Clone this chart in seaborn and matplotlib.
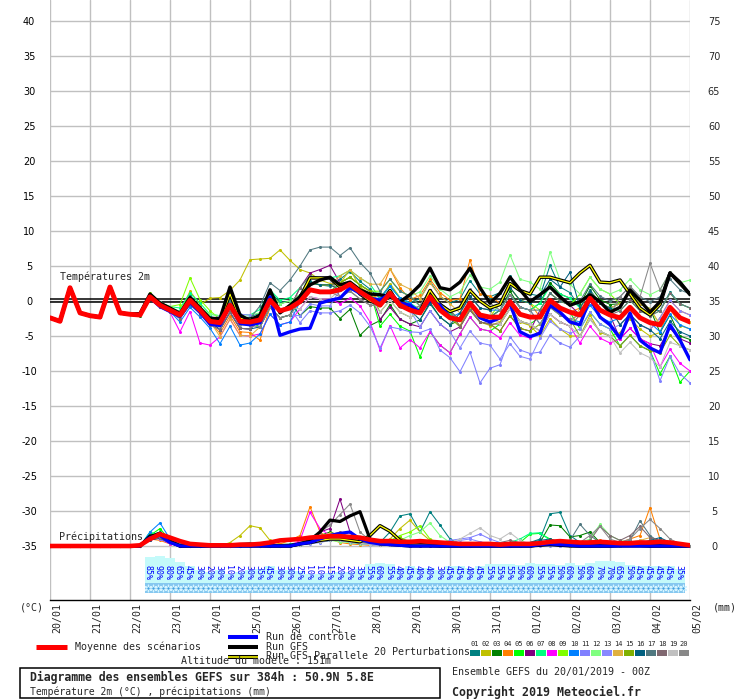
import matplotlib
matplotlib.use("Agg")
import matplotlib.pyplot as plt
import matplotlib.transforms as mtrans
from matplotlib.patches import Rectangle
import pandas as pd
import seaborn as sns

sns.set_style("white")
plt.rcParams["font.family"] = ["DejaVu Sans"]
MONO = "DejaVu Sans Mono"

# ---------------- data ----------------
HOURS = list(range(0, 385, 6))
DAY_TICKS = list(range(0, 385, 24))
DATE_LABELS = ["20/01", "21/01", "22/01", "23/01", "24/01", "25/01", "26/01", "27/01",
               "28/01", "29/01", "30/01", "31/01", "01/02", "02/02", "03/02", "04/02", "05/02"]
TEMP_TICKS = list(range(-35, 41, 5))
PRECIP_TICKS_MM = list(range(0, 76, 5))
PRECIP_BASE = -35   # 0 mm is drawn on the -35 °C level, 1 mm = 1 °C

MEMBER_NAMES = ["01", "02", "03", "04", "05", "06", "07", "08", "09", "10",
                "11", "12", "13", "14", "15", "16", "17", "18", "19", "20"]
MEMBER_COLORS = ["#008080", "#c0c000", "#008000", "#ff8000", "#00ff00", "#800080", "#00ff80",
                 "#ff00ff", "#80ff00", "#0080ff", "#8080ff", "#80ff80", "#8888ff", "#e0b040",
                 "#80b000", "#006080", "#507880", "#806870", "#c0c0c0", "#888888"]

# first 48 h identical for every run
COMMON_T = [-2.4, -2.9, 1.9, -1.7, -2.1, -2.3, 2.0, -1.7, -1.9]
COMMON_P = [0, 0, 0, 0, 0, 0, 0, 0, 0]

MEAN_T = [-2.0, 0.6, -0.6, -1.3, -2.0, 0.1, -1.3, -2.9,
          -3.1, -0.6, -2.9, -3.0, -2.7, 0.1, -1.4, -1.0,
          -0.1, 1.6, 1.3, 1.3, 1.6, 2.4, 1.3, 0.4,
          -0.6, 1.1, -0.6, -1.3, -1.7, 0.6, -1.3, -2.4,
          -2.7, -0.3, -2.0, -2.3, -2.3, -0.1, -1.9, -2.3,
          -2.3, 0.1, -1.0, -1.6, -2.0, 0.4, -1.3, -2.0,
          -2.4, -0.9, -2.4, -3.1, -3.4, -0.9, -2.4, -3.0]
CTRL_T = [-2.0, 0.5, -0.8, -1.5, -2.2, -0.2, -1.6, -3.3,
          -3.5, -0.5, -3.2, -3.4, -3.1, 0.6, -4.9, -4.4,
          -4.0, -3.9, -0.3, 0.1, 0.4, 1.9, 1.1, 0.4,
          0.1, 1.1, -0.3, -0.6, -1.6, 0.1, -0.6, -2.4,
          -2.7, -0.3, -2.4, -3.0, -2.4, -0.3, -4.4, -5.1,
          -4.6, -0.6, -1.6, -3.0, -3.4, 0.4, -2.3, -3.4,
          -5.3, -1.7, -5.6, -6.7, -7.4, -3.4, -5.6, -8.4]
GFS_T = [-1.8, 1.0, -0.3, -1.0, -1.8, 0.5, -1.0, -2.5,
         -2.5, 2.0, -2.0, -2.8, -2.0, 1.6, -1.7, -0.6,
         0.6, 2.3, 3.0, 3.4, 2.3, 2.7, 1.6, 1.0,
         0.9, 0.6, -0.1, 0.9, 2.3, 4.7, 1.9, 1.6,
         2.7, 4.7, 1.9, -0.3, 1.1, 3.4, 1.6, -0.1,
         0.9, 2.0, 0.6, -0.6, -0.1, 0.9, -0.1, -1.6,
         -0.9, 1.6, 0.1, -1.6, -0.1, 4.0, 2.7, 0.9]
PARA_T = [-1.9, 0.8, -0.5, -1.2, -2.0, 0.3, -1.2, -2.7,
          -2.8, 1.0, -2.5, -2.6, -2.2, 0.8, -1.5, -0.8,
          0.5, 3.3, 3.3, 3.3, 2.0, 2.5, 1.0, 0.0,
          -0.5, 1.5, -0.8, -1.0, -1.5, 1.5, -0.5, -1.5,
          -1.0, 1.5, 0.0, -1.0, -0.5, 2.5, 1.5, 1.0,
          3.4, 3.4, 3.0, 2.6, 4.0, 5.1, 2.7, 2.6,
          3.0, 1.0, -1.0, -2.0, -0.5, 4.0, 2.5, 1.0]

P01_T = [-2.0, 0.8, -0.4, -1.1, -1.5, 0.8, -0.8, -2.2,
         -2.6, 0.2, -2.4, -2.3, -1.7, 1.4, -0.2, 0.0,
         0.9, 2.8, 2.3, 2.1, 3.1, 4.2, 2.8, 1.7,
         0.4, 2.3, 0.4, -0.2, 0.3, 2.8, 0.7, -0.3,
         0.3, 2.9, 1.0, 0.6, 1.2, 3.6, 1.6, 1.0,
         0.7, 5.1, 2.0, 1.2, -1.0, 1.6, -0.3, -1.0,
         -0.4, 1.5, -0.4, -1.1, -1.4, 1.3, -0.4, -1.0]
P02_T = [-1.8, 1.0, -0.3, -1.0, -1.5, 1.4, -0.5, 0.4,
         0.5, 1.5, 3.0, 5.9, 6.0, 6.1, 7.3, 5.8,
         4.5, 4.0, 3.0, 2.5, 2.5, 4.5, 2.0, 1.0,
         0.0, 2.5, 0.5, -0.5, -1.5, 1.0, -1.0, -2.0,
         -3.5, -1.0, -3.0, -3.5, -3.0, -0.5, -3.0, -3.5,
         -5.0, -2.5, -4.0, -5.0, -5.0, -2.0, -4.5, -5.0,
         -4.5, -2.5, -4.0, -5.0, -4.5, -1.0, -3.5, -4.0]
P03_T = [-2.2, 0.5, -0.6, -1.4, -2.5, -0.5, -1.8, -3.4,
         -3.1, -0.3, -2.9, -3.2, -1.7, 1.3, -0.4, 0.0,
         -2.1, -0.8, -1.0, -1.0, -2.5, -1.2, -4.9, -3.5,
         -2.8, -0.5, -2.6, -3.3, -2.7, -0.2, -2.3, -3.4,
         -2.7, -0.1, -2.0, -2.3, -1.3, 1.4, -0.9, -1.3,
         -0.3, 2.6, 1.0, 0.4, -0.5, 2.2, 0.2, -0.5,
         -0.4, 1.3, -0.4, -1.1, -4.5, -2.0, -5.0, -5.5]
P04_T = [-2.0, 0.4, -0.8, -1.3, -2.0, 0.3, -1.1, -3.0,
         -4.6, -2.1, -4.4, -4.5, -5.6, -0.9, -2.4, -2.0,
         0.9, 2.6, 2.3, 2.3, 1.6, 2.4, 1.3, 0.4,
         0.9, 4.6, 1.9, 0.2, 0.8, 3.1, 1.2, 0.1,
         0.3, 5.9, 1.0, 0.7, -0.3, 1.9, 0.1, -0.3,
         -2.3, 0.1, -1.0, -1.6, -1.0, 1.4, -0.3, -1.0,
         -3.4, -1.9, -3.4, -4.1, -2.4, 0.1, -1.4, -2.0]
P05_T = [-2.0, 0.8, -0.5, -1.3, -1.5, 0.6, -0.8, -2.4,
         -3.1, -0.6, -2.9, -3.0, -3.7, -0.9, -2.4, -2.0,
         -0.1, 1.6, 1.3, 1.3, 2.6, 3.4, 2.3, 1.4,
         -3.6, -1.9, -3.6, -4.3, -8.0, -4.4, -6.3, -7.4,
         -4.7, -2.3, -4.0, -4.3, -3.3, -1.1, -2.9, -3.3,
         -2.3, 0.1, -1.0, -1.6, -4.0, -1.6, -3.3, -4.0,
         -6.4, -4.9, -6.4, -7.1, -10.4, -7.9, -11.6, -10.0]
P06_T = [-2.0, 0.6, -0.6, -1.3, -2.0, 0.1, -1.3, -2.9,
         -4.1, -1.6, -3.9, -4.0, -2.7, 0.1, -1.4, -1.0,
         1.9, 4.0, 4.5, 5.1, 2.6, 3.4, 2.3, 1.4,
         -2.6, -0.9, -2.6, -3.3, -3.7, -1.4, -3.3, -4.4,
         -3.7, -1.3, -3.0, -3.3, -4.3, -2.1, -3.9, -4.3,
         -1.3, 1.1, 0.0, -0.6, -2.0, 0.4, -1.3, -2.0,
         -5.4, -3.9, -5.4, -6.1, -6.4, -3.9, -5.4, -6.0]
P07_T = [-2.0, 1.0, -0.2, -0.8, -1.0, 1.1, -0.3, -1.9,
         -2.1, 0.4, -1.9, -2.0, -1.2, 1.6, 0.1, 0.5,
         1.9, 3.6, 3.3, 3.3, 3.6, 4.4, 3.3, 2.4,
         0.4, 2.1, 0.4, -0.3, -1.2, 1.1, -0.8, -1.9,
         -2.7, -0.3, -2.0, -2.3, -1.3, 0.9, -0.9, -1.3,
         -0.3, 2.1, 1.0, 0.4, -1.0, 1.4, -0.3, -1.0,
         -1.4, 0.1, -1.4, -2.1, -1.4, 1.1, -0.4, -1.0]
P08_T = [-2.0, 0.4, -0.8, -1.6, -4.4, -1.5, -6.0, -6.3,
         -5.1, -2.6, -4.9, -5.0, -4.7, -1.9, -3.4, -3.0,
         -1.1, 0.6, 0.3, 0.3, -0.4, 0.4, -0.7, -3.0,
         -7.0, -3.5, -6.7, -5.5, -6.7, -4.4, -6.3, -7.4,
         -4.7, -2.3, -4.0, -4.3, -5.3, -3.1, -4.9, -5.3,
         -4.3, -1.9, -3.0, -3.6, -6.0, -3.6, -5.3, -6.0,
         -5.4, -3.9, -5.4, -6.1, -9.4, -6.9, -8.9, -10.0]
P09_T = [-2.0, 1.2, -0.2, -0.8, -0.5, 3.3, 0.2, -1.4,
         -2.6, -0.1, -2.4, -2.5, -2.7, 0.1, -1.4, -1.0,
         0.9, 2.6, 2.3, 2.3, 2.6, 3.4, 2.3, 1.4,
         1.4, 3.1, 1.4, 0.7, -0.7, 1.6, -0.3, -1.4,
         -2.7, -0.3, -2.0, -2.3, -0.3, 1.9, 0.1, -0.3,
         -1.3, 1.1, 0.0, -0.6, 1.0, 3.4, 1.7, 1.0,
         -0.4, 1.1, -0.4, -1.1, -3.4, -0.9, -2.4, -3.0]
P10_T = [-2.0, 0.5, -0.8, -1.5, -3.0, -0.9, -2.3, -3.9,
         -6.1, -3.6, -6.3, -6.0, -4.7, -1.9, -3.4, -3.0,
         -0.1, 1.6, 1.3, 1.3, 1.6, 2.4, 1.3, 0.4,
         0.4, 2.1, 0.4, -0.3, -1.7, 0.6, -1.3, -2.4,
         -1.7, 0.7, -1.0, -1.3, -1.3, 0.9, -0.9, -1.3,
         -3.3, -0.9, -2.0, -2.6, -3.0, -0.6, -2.3, -3.0,
         -2.4, -0.9, -2.4, -3.1, -4.4, -1.9, -3.4, -4.0]
P11_T = [-2.0, 0.6, -0.9, -1.6, -2.5, -0.4, -1.8, -3.4,
         -4.1, -1.6, -3.9, -4.0, -2.7, 0.1, -1.4, -1.0,
         -3.1, -1.4, -1.7, -1.7, -1.4, -0.6, -1.7, -3.6,
         -6.7, -3.7, -4.0, -4.4, -4.5, -4.0, -7.0, -8.1,
         -10.1, -7.3, -11.7, -9.6, -9.1, -5.1, -7.0, -7.5,
         -7.3, -4.9, -6.0, -6.6, -5.0, -2.6, -4.3, -5.0,
         -6.4, -4.9, -6.4, -7.1, -11.4, -7.9, -10.4, -11.7]
P12_T = [-2.0, 1.0, -0.2, -0.8, -1.5, 0.6, -0.8, -1.9,
         -2.1, 0.4, -1.9, -2.0, -1.7, 1.1, -0.4, 0.0,
         0.9, 2.6, 2.3, 2.3, 1.6, 2.4, 1.3, 0.4,
         1.4, 3.1, 1.4, 0.7, 1.3, 3.6, 1.7, 0.6,
         1.3, 3.7, 2.0, 1.7, 2.7, 6.6, 3.1, 2.7,
         1.7, 7.0, 3.0, 2.4, 1.0, 3.4, 1.7, 1.0,
         1.6, 3.1, 1.6, 0.9, 1.6, 4.1, 2.6, 3.0]
P13_T = [-2.0, 0.6, -0.6, -1.3, -2.0, 0.1, -1.3, -2.9,
         -2.1, 0.4, -1.9, -2.0, -3.7, -0.9, -2.4, -2.0,
         -2.1, -0.4, -0.7, -0.7, 1.6, 2.4, 1.3, 0.4,
         -0.6, 1.1, -0.6, -1.3, -3.7, -1.4, -3.3, -4.4,
         -6.7, -4.3, -6.0, -6.3, -8.3, -6.1, -7.9, -8.3,
         -5.3, -2.9, -4.0, -4.6, -4.0, -1.6, -3.3, -4.0,
         -3.4, -1.9, -3.4, -4.1, -2.4, 0.1, -1.4, -2.0]
P14_T = [-2.0, 0.6, -0.6, -1.3, -2.0, 0.1, -1.3, -2.9,
         -5.1, -2.6, -4.9, -5.0, -3.7, -0.9, -2.4, -2.0,
         0.9, 2.6, 2.3, 2.3, 3.6, 4.4, 3.3, 2.4,
         2.4, 4.6, 2.4, 1.7, 0.3, 2.6, 0.7, -0.4,
         -1.7, 0.7, -1.0, -1.3, -3.3, -1.1, -2.9, -3.3,
         -4.3, -1.9, -3.0, -3.6, -1.0, 1.4, -0.3, -1.0,
         -0.4, 1.1, -0.4, -1.1, -3.4, -0.9, -2.4, -3.0]
P15_T = [-2.0, 0.9, -0.4, -1.1, -1.5, 0.6, -0.8, -2.4,
         -3.1, -0.6, -2.9, -3.0, -2.7, 0.1, -1.4, -1.0,
         0.9, 2.6, 2.3, 2.3, 2.6, 3.4, 2.3, 1.4,
         -1.6, 0.1, -1.6, -2.3, -1.7, 0.6, -1.3, -2.4,
         -3.7, -1.3, -3.0, -3.3, -4.3, -2.1, -3.9, -4.3,
         -3.3, -0.9, -2.0, -2.6, -5.0, -2.6, -4.3, -5.0,
         -6.4, -4.9, -6.4, -7.1, -7.4, -4.9, -6.4, -7.0]
P16_T = [-2.0, 0.6, -0.6, -1.3, -2.0, 0.1, -1.3, -2.9,
         -4.1, -1.6, -3.9, -4.0, -3.7, -0.9, -2.4, -2.0,
         0.9, 2.6, 2.3, 2.3, 1.6, 2.4, 1.3, 0.4,
         -0.6, 1.1, -0.6, -1.3, -2.7, -0.4, -2.3, -3.4,
         -1.7, 0.7, -1.0, -1.3, -0.3, 1.9, 0.1, -0.3,
         0.7, 3.1, 2.0, 4.1, -1.0, 1.4, -0.3, -1.0,
         -3.4, -1.9, -3.4, -4.1, -5.4, -2.9, -4.4, -5.0]
P17_T = [-2.0, 0.9, -0.2, -1.0, -1.5, 0.6, -0.8, -2.4,
         -2.6, -0.1, -2.4, -2.5, -0.7, 2.6, 1.5, 3.0,
         5.0, 7.3, 7.7, 7.7, 6.5, 7.6, 5.5, 4.0,
         1.4, 3.1, 1.4, 0.7, -0.7, 1.6, -0.3, -1.4,
         -2.7, -0.3, -2.0, -2.3, -1.3, 0.9, -0.9, -1.3,
         -1.3, 1.1, 0.0, -0.6, 0.0, 2.4, 0.7, 0.0,
         0.6, 2.1, 0.6, -0.1, 0.6, 3.1, 1.6, 1.0]
P18_T = [-2.0, 0.3, -0.9, -1.6, -2.5, -0.4, -1.8, -3.4,
         -4.1, -1.6, -3.9, -4.0, -2.7, 0.1, -1.4, -1.0,
         1.9, 3.6, 3.3, 3.3, 0.6, 1.4, 0.3, -0.6,
         -0.6, 1.1, -0.6, -1.3, -0.7, 1.6, -0.3, -1.4,
         -3.7, -1.3, -3.0, -3.3, -3.3, -1.1, -2.9, -3.3,
         -4.3, -1.9, -3.0, -3.6, -2.0, 0.4, -1.3, -2.0,
         -1.4, 0.1, -1.4, -2.1, -1.4, 1.1, -0.4, -1.0]
P19_T = [-2.0, 0.6, -0.6, -1.3, -2.0, 0.1, -1.3, -2.9,
         -3.1, -0.6, -2.9, -3.0, -2.7, 0.1, -1.4, -1.0,
         -1.1, 0.6, 0.3, 0.3, 1.6, 2.4, 1.3, 0.4,
         -1.6, 0.1, -1.6, -2.3, -1.7, 0.6, -1.3, -2.4,
         -2.7, -0.3, -2.0, -2.3, -3.3, -1.1, -2.9, -3.3,
         -4.3, -1.9, -3.0, -3.6, -5.0, -2.6, -4.3, -5.0,
         -7.4, -5.9, -7.4, -8.1, -9.4, -5.9, -6.4, -7.0]
P20_T = [-2.0, 0.6, -0.6, -1.3, -2.0, 0.1, -1.3, -2.9,
         -3.6, -1.1, -3.4, -3.5, -3.7, -0.9, -2.4, -2.0,
         -0.1, 1.6, 1.3, 1.3, 0.6, 1.4, 0.3, -0.6,
         -0.6, 1.1, -0.6, -1.3, -0.7, 1.6, -0.3, -1.4,
         -0.7, 1.7, 0.0, -0.3, -1.3, 0.9, -0.9, -1.3,
         -3.3, -0.9, -2.0, -2.6, -2.0, 0.4, -1.3, -2.0,
         0.6, 2.1, 0.6, 5.4, 1.6, 4.1, 2.6, 1.0]

# precipitation (mm per 6 h), from 22/01 06Z
MEAN_P = [0.1, 1.0, 1.7, 1.2, 0.7, 0.3, 0.2, 0.1,
          0.1, 0.1, 0.2, 0.2, 0.3, 0.5, 0.8, 0.9,
          1.0, 1.2, 1.3, 1.4, 1.4, 1.3, 1.2, 0.9,
          0.7, 0.7, 0.6, 0.6, 0.7, 0.6, 0.5, 0.4,
          0.3, 0.3, 0.3, 0.3, 0.2, 0.3, 0.3, 0.3,
          0.4, 0.6, 0.7, 0.6, 0.5, 0.5, 0.6, 0.5,
          0.4, 0.4, 0.5, 0.5, 0.6, 0.5, 0.3, 0.1]
CTRL_P = [0, 1.2, 1.5, 0.5, 0, 0, 0, 0,
          0, 0, 0, 0, 0, 0, 0, 0,
          0.3, 0.5, 1.0, 1.5, 1.8, 2.0, 1.0, 0.5,
          0.3, 0.2, 0.1, 0, 0, 0, 0, 0,
          0, 0, 0, 0, 0, 0, 0, 0,
          0.2, 0.3, 0.2, 0.1, 0, 0, 0, 0,
          0, 0, 0, 0, 0, 0, 0, 0]
GFS_P = [0, 1.4, 1.6, 0.6, 0, 0, 0, 0,
         0, 0, 0.2, 0.3, 0.1, 0, 0, 0,
         0.3, 0.8, 2.0, 3.7, 3.5, 4.3, 4.9, 1.0,
         0.3, 0.2, 0.1, 0, 0, 0, 0, 0,
         0, 0, 0, 0, 0, 0, 0, 0,
         0.1, 0.2, 0.1, 0, 0, 0, 0, 0,
         0, 0, 0, 0, 0, 0, 0, 0]
PARA_P = [0, 1.3, 1.8, 0.7, 0, 0, 0, 0,
          0, 0, 0, 0, 0, 0, 0, 0,
          0.3, 0.5, 0.8, 1.0, 1.0, 0.8, 0.6, 1.5,
          2.9, 2.1, 0.8, 0.3, 0.2, 0.1, 0, 0,
          0, 0, 0, 0, 0, 0, 0, 0,
          0.2, 0.3, 0.2, 0.1, 0, 0, 0, 0,
          0.1, 0.2, 0.1, 0, 0, 0, 0, 0]

P01_P = [0, 1.5, 2.0, 0.8, 0.3, 0.1, 0, 0,
         0, 0, 0, 0, 0, 0, 0.2, 0.3,
         0.5, 1.0, 1.5, 1.2, 0.8, 1.0, 0.5, 0.3,
         0.5, 2.0, 4.3, 4.6, 2.0, 4.9, 3.0, 1.0,
         0.3, 0.2, 0, 0, 0, 0.2, 0.3, 0.5,
         1.0, 4.6, 4.8, 1.5, 0.5, 0.3, 0.2, 0.1,
         0.2, 0.5, 0.3, 0.2, 0.3, 0.2, 0.1, 0]
P02_P = [0, 1.2, 1.5, 0.5, 0.1, 0, 0, 0,
         0, 0.5, 1.5, 2.9, 2.6, 0.8, 0.3, 0.2,
         0.3, 0.8, 1.2, 1.0, 0.8, 0.5, 0.3, 0.2,
         0.5, 1.0, 2.5, 3.7, 2.0, 0.8, 0.5, 0.3,
         0.2, 0.1, 0, 0, 0, 0, 0.1, 0.2,
         0.3, 0.5, 0.3, 0.2, 0.1, 0, 0, 0.2,
         0.3, 0.5, 0.2, 0, 0, 0, 0.1, 0]
P03_P = [0, 1.8, 1.2, 0.4, 0, 0, 0, 0,
         0, 0, 0, 0, 0, 0, 0, 0.2,
         0.4, 1.0, 1.5, 2.0, 1.5, 0.8, 0.4, 0.2,
         0.2, 0.5, 0.3, 0.2, 0.2, 0.4, 0.3, 0.1,
         0, 0, 0, 0, 0, 0, 0, 0.2,
         0.5, 3.0, 2.9, 1.3, 1.5, 2.0, 0.5, 0.2,
         0.2, 0.3, 0.2, 0.1, 0, 0.1, 0, 0]
P04_P = [0, 1.0, 0.8, 0.3, 0, 0, 0, 0,
         0, 0, 0, 0, 0, 0, 0.3, 0.8,
         1.5, 5.6, 2.0, 1.0, 0.5, 0.3, 0.2, 0.1,
         0.3, 0.5, 0.3, 0.1, 0, 0, 0, 0,
         0, 0, 0, 0, 0, 0, 0.1, 0.1,
         0.2, 0.3, 0.3, 0.2, 0.2, 0.5, 0.8, 0.3,
         0.5, 1.0, 1.5, 5.5, 1.0, 0.5, 0.2, 0]
P05_P = [0, 1.5, 2.5, 0.8, 0.2, 0, 0, 0,
         0, 0, 0, 0, 0, 0, 0, 0,
         0.2, 0.5, 0.8, 1.0, 1.5, 1.0, 0.5, 0.3,
         0.3, 0.5, 0.4, 0.2, 0.5, 0.3, 0.2, 0.1,
         0, 0, 0, 0, 0.1, 0.3, 0.5, 1.7,
         1.8, 1.0, 0.5, 0.2, 0.2, 0, 0, 0,
         0, 0.2, 0.1, 0, 0, 0, 0, 0]
P06_P = [0, 0.8, 1.2, 0.5, 0, 0, 0, 0,
         0, 0, 0, 0, 0, 0, 0, 0,
         0.5, 1.0, 2.0, 2.5, 6.7, 2.0, 0.8, 0.4,
         0.2, 0.3, 0.1, 0, 0, 0, 0, 0,
         0, 0.1, 0.1, 0, 0, 0, 0, 0,
         0.1, 0.2, 0.2, 0.1, 0, 0, 0, 0,
         0.1, 0.2, 0.3, 0.2, 0.1, 0, 0, 0]
P07_P = [0, 2.0, 1.5, 0.5, 0.1, 0, 0, 0,
         0, 0, 0, 0, 0, 0.1, 0.2, 0.2,
         0.3, 0.6, 1.0, 1.2, 1.0, 0.8, 0.5, 0.3,
         0.2, 0.3, 0.2, 0.1, 0.1, 0.2, 0.1, 0,
         0, 0, 0, 0, 0.2, 0.5, 1.0, 1.8,
         1.9, 0.8, 0.4, 0.2, 0.1, 0.2, 0.1, 0,
         0.1, 0.2, 0.1, 0.1, 0.1, 0.1, 0, 0]
P08_P = [0, 1.2, 1.0, 0.3, 0, 0, 0, 0,
         0, 0, 0, 0, 0, 0, 0, 0,
         0.8, 4.8, 2.5, 1.5, 1.0, 0.8, 0.5, 0.2,
         0.2, 0.3, 0.2, 0.1, 0.1, 0.1, 0, 0,
         0, 0, 0, 0, 0, 0.1, 0.1, 0.2,
         0.2, 0.3, 0.2, 0.1, 0.1, 0, 0, 0.1,
         0.2, 0.3, 0.2, 0.1, 0.1, 0.1, 0, 0]
P09_P = [0, 1.5, 1.8, 0.6, 0.1, 0, 0, 0,
         0, 0, 0, 0, 0, 0, 0, 0,
         0.3, 0.5, 0.8, 1.0, 1.2, 1.0, 0.8, 0.5,
         0.3, 0.8, 1.5, 2.0, 2.9, 1.0, 0.3, 0.1,
         0, 0, 0, 0, 0, 0, 0, 0,
         0.1, 0.2, 0.1, 0, 0, 0, 0, 0,
         0, 0.1, 0.1, 0, 0, 0, 0, 0]
P10_P = [0, 2.0, 3.3, 1.0, 0.3, 0.1, 0, 0,
         0, 0, 0, 0, 0, 0, 0, 0,
         0.2, 0.4, 0.6, 0.8, 0.8, 0.6, 0.4, 0.2,
         0.2, 0.2, 0.1, 0, 0.1, 0.1, 0, 0,
         0, 0, 0, 0, 0, 0, 0.1, 0.1,
         0.1, 0.1, 0.2, 0.1, 0, 0, 0, 0,
         0.1, 0.2, 0.1, 0, 0, 0, 0, 0]
P11_P = [0, 1.0, 1.3, 0.4, 0, 0, 0, 0,
         0, 0, 0, 0, 0, 0, 0, 0,
         0.2, 0.3, 0.5, 0.8, 0.8, 0.5, 0.3, 0.2,
         0.1, 0.2, 0.2, 0.1, 0.2, 0.3, 0.5, 0.8,
         1.0, 1.2, 1.7, 1.0, 0.5, 0.3, 0.2, 0.1,
         0.1, 0.1, 0, 0, 0, 0.1, 0.1, 0,
         0.1, 0.2, 0.2, 0.1, 0.1, 0, 0, 0]
P12_P = [0, 1.2, 1.6, 0.6, 0.2, 0, 0, 0,
         0, 0, 0, 0, 0, 0, 0, 0,
         0.2, 0.4, 0.6, 0.8, 0.6, 0.5, 0.3, 0.2,
         0.2, 0.4, 0.8, 1.5, 2.0, 3.3, 1.5, 0.5,
         0.2, 0.1, 0, 0, 0, 0.1, 0.1, 0.1,
         0.2, 0.3, 0.2, 0.3, 0.5, 1.0, 3.1, 1.5,
         0.8, 0.5, 0.3, 0.2, 0.1, 0.1, 0, 0]
P13_P = [0, 1.3, 1.0, 0.4, 0, 0, 0, 0,
         0, 0, 0, 0, 0, 0, 0, 0,
         0.3, 0.5, 0.6, 0.8, 0.8, 0.6, 0.4, 0.2,
         0.2, 0.3, 0.2, 0.1, 0.1, 0.2, 0.3, 0.5,
         0.8, 1.0, 0.6, 0.3, 0.2, 0.1, 0.1, 0,
         0, 0, 0, 0, 0, 0.1, 0.2, 0.1,
         0.2, 0.5, 0.8, 0.5, 0.2, 0.1, 0, 0]
P14_P = [0, 1.0, 1.4, 0.6, 0.1, 0, 0, 0,
         0, 0, 0, 0, 0, 0, 0, 0,
         0.5, 1.0, 1.5, 1.8, 1.2, 0.8, 0.5, 0.3,
         0.3, 0.5, 0.4, 0.2, 0.2, 0.2, 0.1, 0.1,
         0, 0, 0, 0, 0, 0, 0, 0,
         0.1, 0.2, 0.3, 0.2, 0.1, 0.1, 0.2, 0.3,
         0.4, 0.6, 0.8, 1.2, 0.8, 0.3, 0.1, 0]
P15_P = [0, 1.1, 1.3, 0.5, 0, 0, 0, 0,
         0, 0, 0, 0, 0, 0, 0, 0,
         0.3, 0.6, 0.8, 1.0, 1.0, 0.8, 0.5, 0.3,
         0.3, 0.8, 1.2, 0.6, 0.3, 0.2, 0.1, 0,
         0, 0, 0, 0, 0, 0, 0, 0,
         0.2, 0.5, 0.4, 0.2, 0.2, 0.1, 0, 0,
         0.1, 0.2, 0.2, 0.1, 0, 0, 0, 0]
P16_P = [0, 0.9, 1.1, 0.4, 0, 0, 0, 0,
         0, 0, 0, 0, 0, 0, 0, 0,
         0.2, 0.4, 0.6, 0.8, 0.8, 0.6, 0.4, 0.3,
         0.2, 0.3, 0.2, 0.1, 0.1, 0.1, 0.1, 0,
         0, 0, 0, 0, 0.1, 0.2, 0.3, 0.5,
         0.8, 1.0, 0.6, 0.3, 0.2, 0.1, 0.1, 0,
         0.1, 0.2, 0.4, 0.8, 1.2, 0.5, 0.2, 0]
P17_P = [0, 1.3, 1.7, 0.6, 0.1, 0, 0, 0,
         0, 0, 0, 0, 0, 0, 0, 0,
         0.3, 0.5, 0.8, 1.0, 1.0, 0.8, 0.5, 0.3,
         0.2, 0.3, 0.2, 0.1, 0.1, 0.1, 0, 0,
         0, 0, 0, 0, 0, 0, 0, 0,
         0.2, 0.3, 0.4, 0.8, 3.1, 1.5, 0.5, 0.3,
         0.5, 0.8, 3.6, 1.5, 0.5, 0.3, 0.1, 0]
P18_P = [0, 1.0, 1.2, 0.4, 0, 0, 0, 0,
         0, 0, 0, 0, 0, 0, 0, 0,
         0.4, 0.8, 1.2, 1.6, 2.0, 1.2, 0.6, 0.3,
         0.2, 0.2, 0.1, 0, 0.1, 0.1, 0, 0,
         0, 0.1, 0.2, 0.3, 0.5, 0.8, 0.5, 0.2,
         0.2, 0.3, 0.2, 0.1, 0.3, 0.8, 2.8, 1.5,
         0.8, 1.5, 2.8, 1.2, 0.8, 0.5, 0.2, 0]
P19_P = [0, 1.2, 1.4, 0.5, 0, 0, 0, 0,
         0, 0, 0, 0, 0, 0, 0, 0,
         0.2, 0.4, 0.6, 0.8, 0.8, 0.6, 0.4, 0.2,
         0.2, 0.2, 0.1, 0.1, 0.1, 0.2, 0.3, 0.5,
         1.0, 1.8, 2.6, 1.5, 1.0, 1.9, 0.8, 0.3,
         0.2, 0.1, 0.1, 0, 0, 0, 0, 0,
         0.1, 0.1, 0.2, 0.1, 0, 0, 0, 0]
P20_P = [0, 1.1, 1.5, 0.5, 0, 0, 0, 0,
         0, 0, 0, 0, 0, 0, 0, 0,
         0.5, 1.2, 2.0, 3.0, 4.5, 6.0, 2.0, 0.8,
         0.3, 0.4, 0.2, 0.1, 0.1, 0.1, 0, 0,
         0, 0, 0, 0, 0, 0, 0, 0,
         0.1, 0.2, 0.2, 0.1, 0.5, 1.5, 2.8, 1.0,
         0.5, 1.0, 2.5, 3.8, 2.5, 1.0, 0.3, 0]

# probability of precipitation (%) per 6 h step, 22/01 12Z -> 04/02 18Z
PROB_HOURS = list(range(60, 379, 6))
PROB = [85, 90, 80, 65, 45, 30, 20, 30, 10, 20,
        30, 35, 45, 30, 30, 25, 10, 10, 15, 20,
        20, 35, 55, 60, 55, 40, 45, 40, 40, 30,
        45, 45, 40, 45, 55, 55, 55, 50, 60, 55,
        55, 50, 60, 50, 60, 70, 70, 65, 50, 45,
        45, 45, 45, 35]

MEMBER_T = [P01_T, P02_T, P03_T, P04_T, P05_T, P06_T, P07_T, P08_T, P09_T, P10_T,
            P11_T, P12_T, P13_T, P14_T, P15_T, P16_T, P17_T, P18_T, P19_T, P20_T]
MEMBER_P = [P01_P, P02_P, P03_P, P04_P, P05_P, P06_P, P07_P, P08_P, P09_P, P10_P,
            P11_P, P12_P, P13_P, P14_P, P15_P, P16_P, P17_P, P18_P, P19_P, P20_P]

# ---------------- tables ----------------
def series_t(tail):
    return pd.DataFrame({"hour": HOURS, "value": (COMMON_T + tail)[:len(HOURS)]})

def series_p(tail):
    mm = (COMMON_P + tail)[:len(HOURS)]
    return pd.DataFrame({"hour": HOURS, "value": [m + PRECIP_BASE for m in mm]})

rows_t, rows_p = [], []
for name, tt, pp in zip(MEMBER_NAMES, MEMBER_T, MEMBER_P):
    a = series_t(tt); a["member"] = name; rows_t.append(a)
    b = series_p(pp); b["member"] = name; rows_p.append(b)
df_t = pd.concat(rows_t, ignore_index=True)
df_p = pd.concat(rows_p, ignore_index=True)
palette = dict(zip(MEMBER_NAMES, MEMBER_COLORS))

# ---------------- figure ----------------
W, H = 740, 700
fig = plt.figure(figsize=(W / 100, H / 100), dpi=100, facecolor="white")
ax = fig.add_axes([50 / W, 1 - 600 / H, 640 / W, 600 / H])
ax.set_xlim(0, 384)
ax.set_ylim(-42.714, 43.0)
ax.set_axisbelow(True)

ax.set_yticks(TEMP_TICKS)
ax.set_yticklabels([str(v) for v in TEMP_TICKS])
ax.set_xticks(DAY_TICKS)
ax.set_xticklabels(DATE_LABELS, rotation=90, family=MONO, fontsize=7.2, va="top", ha="center")
ax.grid(True, color="#c0c0c0", lw=1.0)
ax.tick_params(axis="y", length=0, pad=15.1, labelsize=7, colors="black")
ax.tick_params(axis="x", length=0, pad=2.2)
for lab in ax.get_yticklabels():
    lab.set_ha("center")
offset = mtrans.ScaledTranslation(7 / 100, 0, fig.dpi_scale_trans)
for lab in ax.get_xticklabels():
    lab.set_transform(lab.get_transform() + offset)
for s in ["top", "left", "right"]:
    ax.spines[s].set_visible(False)
ax.spines["bottom"].set_color("black")
ax.spines["bottom"].set_linewidth(1.0)

ax2 = ax.twinx()
ax2.set_ylim(ax.get_ylim())
ax2.set_yticks([m + PRECIP_BASE for m in PRECIP_TICKS_MM])
ax2.set_yticklabels([str(m) for m in PRECIP_TICKS_MM])
ax2.tick_params(axis="y", length=0, pad=17.3, labelsize=7)
for lab in ax2.get_yticklabels():
    lab.set_ha("center")
for s in ax2.spines.values():
    s.set_visible(False)

# zero line (double black line)
ax.axhline(0.3, color="black", lw=1.1, zorder=2)
ax.axhline(-0.15, color="black", lw=1.1, zorder=2)

# probability bars, labels and snow symbols
ax.bar(PROB_HOURS, [0.9 + 0.033 * p for p in PROB], bottom=-40.3, width=6,
       color="#c4fafa", zorder=1, linewidth=0)
ax.bar(PROB_HOURS, 1.45, bottom=-41.75, width=6, color="#86c8f0", zorder=1, linewidth=0)
flake_x = [h + d for h in PROB_HOURS for d in (-1.5, 1.5)]
ax.scatter(flake_x, [-41.02] * len(flake_x), marker=(6, 2, 0), s=22, color="#d4f4ff",
           linewidths=0.9, zorder=2)
ax.scatter(flake_x, [-41.02] * len(flake_x), marker="o", s=3, color="#3f9fe0",
           linewidths=0, zorder=2)
for h, p in zip(PROB_HOURS, PROB):
    ax.text(h - 0.9, -38.75, f"{p}%", rotation=-90, ha="center", va="center",
            color="#0000ff", fontsize=6.0, family=MONO, zorder=3)

# precipitation lines
sns.lineplot(data=df_p, x="hour", y="value", hue="member", hue_order=MEMBER_NAMES,
             palette=palette, estimator=None, legend=False, lw=0.75, marker="o",
             markersize=2.2, markeredgewidth=0, ax=ax, zorder=3)
d = series_p(PARA_P)
sns.lineplot(data=d, x="hour", y="value", color="black", lw=2.5, ax=ax, zorder=4)
sns.lineplot(data=d, x="hour", y="value", color="#ffff00", lw=0.9, ax=ax, zorder=4)
sns.lineplot(data=series_p(GFS_P), x="hour", y="value", color="black", lw=2.3, ax=ax, zorder=5)
sns.lineplot(data=series_p(CTRL_P), x="hour", y="value", color="#0000ff", lw=2.3, ax=ax, zorder=6)
sns.lineplot(data=series_p(MEAN_P), x="hour", y="value", color="#ff0000", lw=3.3, ax=ax, zorder=7)

# temperature lines
sns.lineplot(data=df_t, x="hour", y="value", hue="member", hue_order=MEMBER_NAMES,
             palette=palette, estimator=None, legend=False, lw=0.75, marker="o",
             markersize=2.2, markeredgewidth=0, ax=ax, zorder=3)
d = series_t(PARA_T)
sns.lineplot(data=d, x="hour", y="value", color="black", lw=2.5, ax=ax, zorder=4)
sns.lineplot(data=d, x="hour", y="value", color="#ffff00", lw=0.9, ax=ax, zorder=4)
sns.lineplot(data=series_t(GFS_T), x="hour", y="value", color="black", lw=2.4, ax=ax, zorder=5)
sns.lineplot(data=series_t(CTRL_T), x="hour", y="value", color="#0000ff", lw=2.4, ax=ax, zorder=6)
sns.lineplot(data=series_t(MEAN_T), x="hour", y="value", color="#ff0000", lw=3.5, ax=ax, zorder=7)

ax.set_xlabel("")
ax.set_ylabel("")
ax2.set_ylabel("")

ax.text(6, 3.4, "Températures 2m", family=MONO, fontsize=7.2, va="center", ha="left", zorder=8)
ax.text(5.4, -33.7, "Précipitations", family=MONO, fontsize=7.2, va="center", ha="left", zorder=8)

# ---------------- legend / captions (pixel overlay) ----------------
lax = fig.add_axes([0, 0, 1, 1])
lax.set_xlim(0, W)
lax.set_ylim(H, 0)
lax.axis("off")

def txt(x, y, s, size=7.2, bold=False, **kw):
    lax.text(x, y, s, family=MONO, fontsize=size, fontweight="bold" if bold else "normal",
             va="center", ha="left", **kw)

txt(20, 607, "(°C)")
txt(713, 607, "(mm)")

lax.plot([36, 67], [647, 647], color="#ff0000", lw=3.6, solid_capstyle="butt")
txt(75, 647, "Moyenne des scénarios")
lax.plot([228, 258], [637, 637], color="#0000ff", lw=2.9, solid_capstyle="butt")
txt(266, 637, "Run de contrôle")
lax.plot([228, 258], [647, 647], color="black", lw=2.9, solid_capstyle="butt")
txt(266, 647, "Run GFS")
lax.plot([228, 258], [656.5, 656.5], color="black", lw=2.9, solid_capstyle="butt")
lax.plot([228, 258], [656.5, 656.5], color="#ffff00", lw=1.1, solid_capstyle="butt")
txt(266, 656, "Run GFS Parallele")
txt(181, 660.5, "Altitude du modèle : 151m")
txt(374, 652, "20 Perturbations")
for k, (name, col) in enumerate(zip(MEMBER_NAMES, MEMBER_COLORS)):
    lax.text(475 + 11 * k, 644, name, family=MONO, fontsize=5.0, ha="center", va="center")
    lax.add_patch(Rectangle((470 + 11 * k, 649.5), 10, 6, facecolor=col, edgecolor="none"))

lax.add_patch(Rectangle((20, 668), 420, 30, fill=False, edgecolor="black", lw=1.1))
txt(30, 677.5, "Diagramme des ensembles GEFS sur 384h : 50.9N 5.8E", size=8.3, bold=True)
txt(30, 691.5, "Température 2m (°C) , précipitations (mm)", size=7.0)
txt(452, 672, "Ensemble GEFS du 20/01/2019 - 00Z", size=7.2)
txt(452, 692, "Copyright 2019 Meteociel.fr", size=8.4, bold=True)

fig.savefig("out.png", dpi=100, facecolor="white")
